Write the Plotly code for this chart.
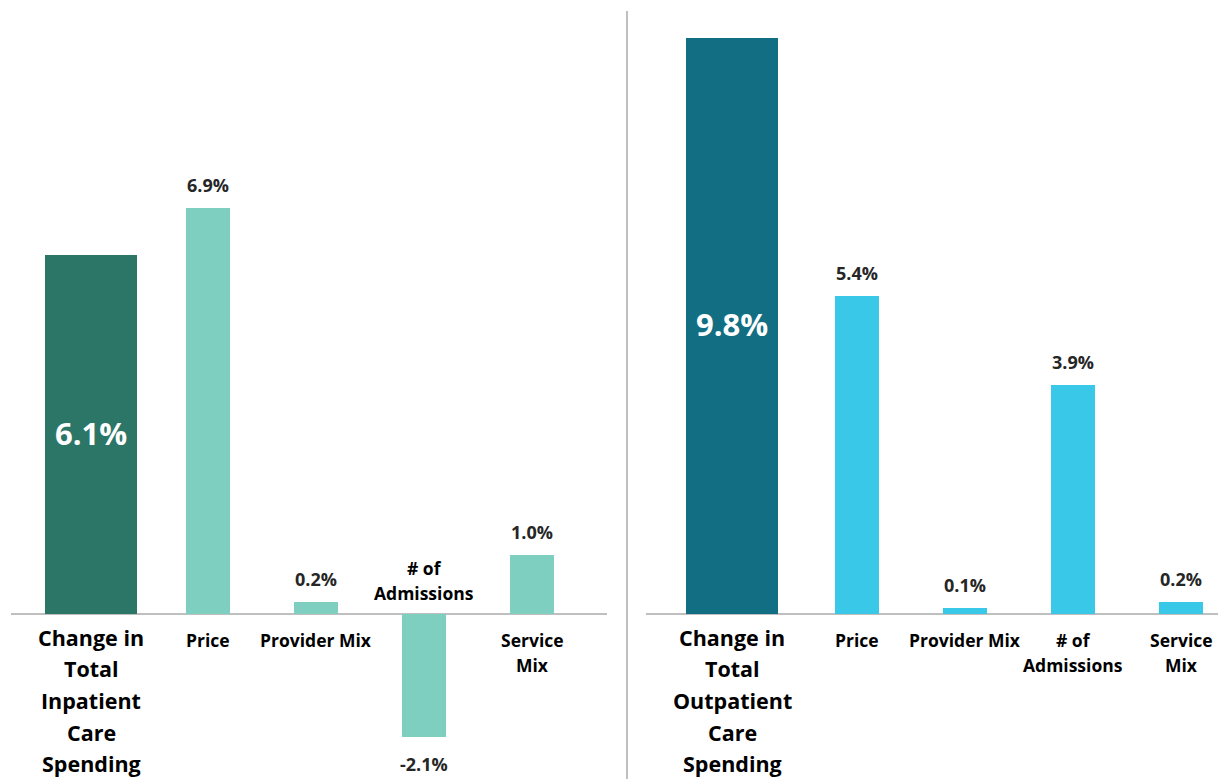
import plotly.graph_objects as go

# ---------------- data ----------------
left_categories = ["Change in Total Inpatient Care Spending", "Price", "Provider Mix", "# of Admissions", "Service Mix"]
left_values = [6.1, 6.9, 0.2, -2.1, 1.0]
left_labels = [["Change in", "Total", "Inpatient", "Care", "Spending"], ["Price"], ["Provider Mix"], ["# of", "Admissions"], ["Service", "Mix"]]

right_categories = ["Change in Total Outpatient Care Spending", "Price", "Provider Mix", "# of Admissions", "Service Mix"]
right_values = [9.8, 5.4, 0.1, 3.9, 0.2]
right_labels = [["Change in", "Total", "Outpatient", "Care", "Spending"], ["Price"], ["Provider Mix"], ["# of", "Admissions"], ["Service", "Mix"]]

# ---------------- style ----------------
OFF = 8  # page margin of the browser body
W, H = 1226 - OFF, 779 - OFF
FONT = "Open Sans"
LEFT_TOTAL = "#2B7667"
LEFT_COMP = "#7ECFC0"
RIGHT_TOTAL = "#126E82"
RIGHT_COMP = "#3AC8E8"
AXIS_GRAY = "#BFBFBF"
VAL_COLOR = "#262626"

PX_PER_UNIT = 58.8
ZERO_PX = 614 - OFF
Y_RANGE = [-(H - ZERO_PX) / PX_PER_UNIT, ZERO_PX / PX_PER_UNIT]

CAT_PX = 108.0
TOTAL_W = 92 / CAT_PX
COMP_W = 44 / CAT_PX

VAL_SIZE = 18
CAT_SIZE = 17.5
TOT_SIZE = 21.5
IN_SIZE = 31

fig = go.Figure()

panels = [
    dict(cats=left_categories, vals=left_values, labels=left_labels, xa="x", ya="y",
         c_total=LEFT_TOTAL, c_comp=LEFT_COMP, total_shift_px=-9,
         dom_px=(11 - OFF, 607 - OFF), first_px=100 - OFF),
    dict(cats=right_categories, vals=right_values, labels=right_labels, xa="x2", ya="y2",
         c_total=RIGHT_TOTAL, c_comp=RIGHT_COMP, total_shift_px=-17,
         dom_px=(646 - OFF, 1226 - OFF), first_px=749 - OFF),
]

annotations = []
for p in panels:
    shift_u = p["total_shift_px"] / CAT_PX
    widths = [TOTAL_W] + [COMP_W] * (len(p["cats"]) - 1)
    offsets = [shift_u - TOTAL_W / 2] + [-COMP_W / 2] * (len(p["cats"]) - 1)
    colors = [p["c_total"]] + [p["c_comp"]] * (len(p["cats"]) - 1)
    fig.add_trace(go.Bar(
        x=p["cats"], y=p["vals"], width=widths, offset=offsets,
        marker=dict(color=colors, line=dict(width=0)),
        xaxis=p["xa"], yaxis=p["ya"], showlegend=False, hoverinfo="skip",
    ))
    ax_ref = p["xa"]
    ay_ref = p["ya"]
    for i, (cat, v, lab) in enumerate(zip(p["cats"], p["vals"], p["labels"])):
        if i == 0:
            annotations.append(dict(
                x=cat, y=v / 2, xref=ax_ref, yref=ay_ref, text=f"{v:.1f}%",
                showarrow=False, xshift=p["total_shift_px"], yshift=2,
                font=dict(family=FONT, size=IN_SIZE, color="white", weight="bold"),
            ))
            for k, line in enumerate(lab):
                annotations.append(dict(
                    x=cat, y=0, xref=ax_ref, yref=ay_ref, text=line, showarrow=False,
                    xshift=p["total_shift_px"], yshift=-(23 + 31.7 * k), yanchor="middle",
                    borderpad=0,
                    font=dict(family=FONT, size=TOT_SIZE, color="black", weight="bold"),
                ))
        else:
            if v >= 0:
                annotations.append(dict(
                    x=cat, y=v, xref=ax_ref, yref=ay_ref, text=f"{v:.1f}%", showarrow=False,
                    yshift=23, yanchor="middle",
                    font=dict(family=FONT, size=VAL_SIZE, color=VAL_COLOR, weight="bold"),
                ))
                for k, line in enumerate(lab):
                    annotations.append(dict(
                        x=cat, y=0, xref=ax_ref, yref=ay_ref, text=line, showarrow=False,
                        yshift=-(26 + 25 * k), yanchor="middle",
                        font=dict(family=FONT, size=CAT_SIZE, color="black", weight="bold"),
                    ))
            else:
                annotations.append(dict(
                    x=cat, y=v, xref=ax_ref, yref=ay_ref, text=f"{v:.1f}%", showarrow=False,
                    yshift=-27, yanchor="middle",
                    font=dict(family=FONT, size=VAL_SIZE, color=VAL_COLOR, weight="bold"),
                ))
                n = len(lab)
                for k, line in enumerate(lab):
                    annotations.append(dict(
                        x=cat, y=0, xref=ax_ref, yref=ay_ref, text=line, showarrow=False,
                        yshift=(21 + 25 * (n - 1 - k)), yanchor="middle",
                        font=dict(family=FONT, size=CAT_SIZE, color="black", weight="bold"),
                    ))

def xaxis_cfg(p):
    lo_px, hi_px = p["dom_px"]
    return dict(
        domain=[lo_px / W, hi_px / W],
        range=[(lo_px - p["first_px"]) / CAT_PX, (hi_px - p["first_px"]) / CAT_PX],
        type="category", showticklabels=False, showgrid=False, zeroline=False,
        showline=False, ticks="", fixedrange=True,
    )

def yaxis_cfg(anchor):
    return dict(
        range=Y_RANGE, domain=[0, 1], anchor=anchor, showgrid=False, showticklabels=False,
        zeroline=True, zerolinecolor=AXIS_GRAY, zerolinewidth=2, showline=False, ticks="",
        fixedrange=True,
    )

fig.update_layout(
    width=W, height=H,
    margin=dict(l=0, r=0, t=0, b=0),
    paper_bgcolor="white", plot_bgcolor="white",
    xaxis=dict(**xaxis_cfg(panels[0]), anchor="y"),
    xaxis2=dict(**xaxis_cfg(panels[1]), anchor="y2"),
    yaxis=yaxis_cfg("x"),
    yaxis2=yaxis_cfg("x2"),
    annotations=annotations,
    bargap=0,
    shapes=[dict(type="line", xref="paper", yref="paper",
                 x0=(627 - OFF) / W, x1=(627 - OFF) / W, y0=0, y1=(H - (11 - OFF)) / H,
                 line=dict(color=AXIS_GRAY, width=2))],
    font=dict(family=FONT),
)

fig.write_html("out.html")
